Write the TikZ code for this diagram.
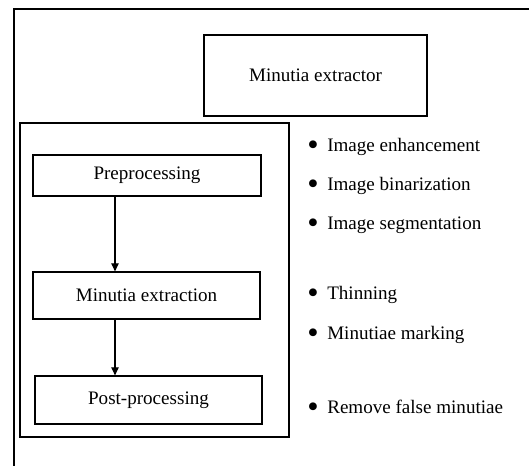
\documentclass[tikz,border=0pt]{standalone}
\usepackage{fontspec}
\setmainfont{Liberation Serif}
\usetikzlibrary{arrows.meta}

\newcommand{\stepdot}{\raisebox{-0.45ex}{\scalebox{1.7}{\textbullet}}}

\tikzset{
  stagebox/.style={draw, line width=0.9pt, inner sep=0pt, font=\fontsize{14.3}{17}\selectfont},
  stagearrow/.style={-{Triangle[length=6pt,width=5.5pt]}, line width=0.9pt},
  item/.style={anchor=base west, inner sep=0pt, font=\fontsize{14.3}{17}\selectfont}
}

\begin{document}
\begin{tikzpicture}[x=0.75pt,y=-0.75pt]

\useasboundingbox (0,0) rectangle (529,466);

% Frame
\draw[line width=1.5pt](14,466)--++(0,-456.5)--++(515,0);

% Title box
\node[stagebox, minimum width=223*0.75pt, minimum height=81*0.75pt] (extractor) at (315.5,75.5) {Minutia extractor};

% Stages
\draw[line width=0.9pt](20,123) rectangle (289,437);
\node[stagebox, minimum width=228*0.75pt, minimum height=41*0.75pt] (pre) at (147,175.5) {Preprocessing};
\node[stagebox, minimum width=227*0.75pt, minimum height=47*0.75pt] (ext) at (146.5,295.5) {Minutia extraction};
\node[stagebox, minimum width=227*0.75pt, minimum height=48*0.75pt] (post) at (148.5,400) {Post-processing};

\coordinate (axis) at (115,0);
\draw[stagearrow](pre.south -| axis)--(ext.north -| axis);
\draw[stagearrow](ext.south -| axis)--(post.north -| axis);

% Steps
\node[item] (s1) at (307,152) {\stepdot\hskip 6.5pt Image enhancement};
\node[item] (s2) at (307,191) {\stepdot\hskip 6.5pt Image binarization};
\node[item] (s3) at (307,230) {\stepdot\hskip 6.5pt Image segmentation};

\node[item] (s4) at (307,300) {\stepdot\hskip 6.5pt Thinning};
\node[item] (s5) at (307,340) {\stepdot\hskip 6.5pt Minutiae marking};

\node[item] (s6) at (307,414) {\stepdot\hskip 6.5pt Remove false minutiae};

\end{tikzpicture}
\end{document}
